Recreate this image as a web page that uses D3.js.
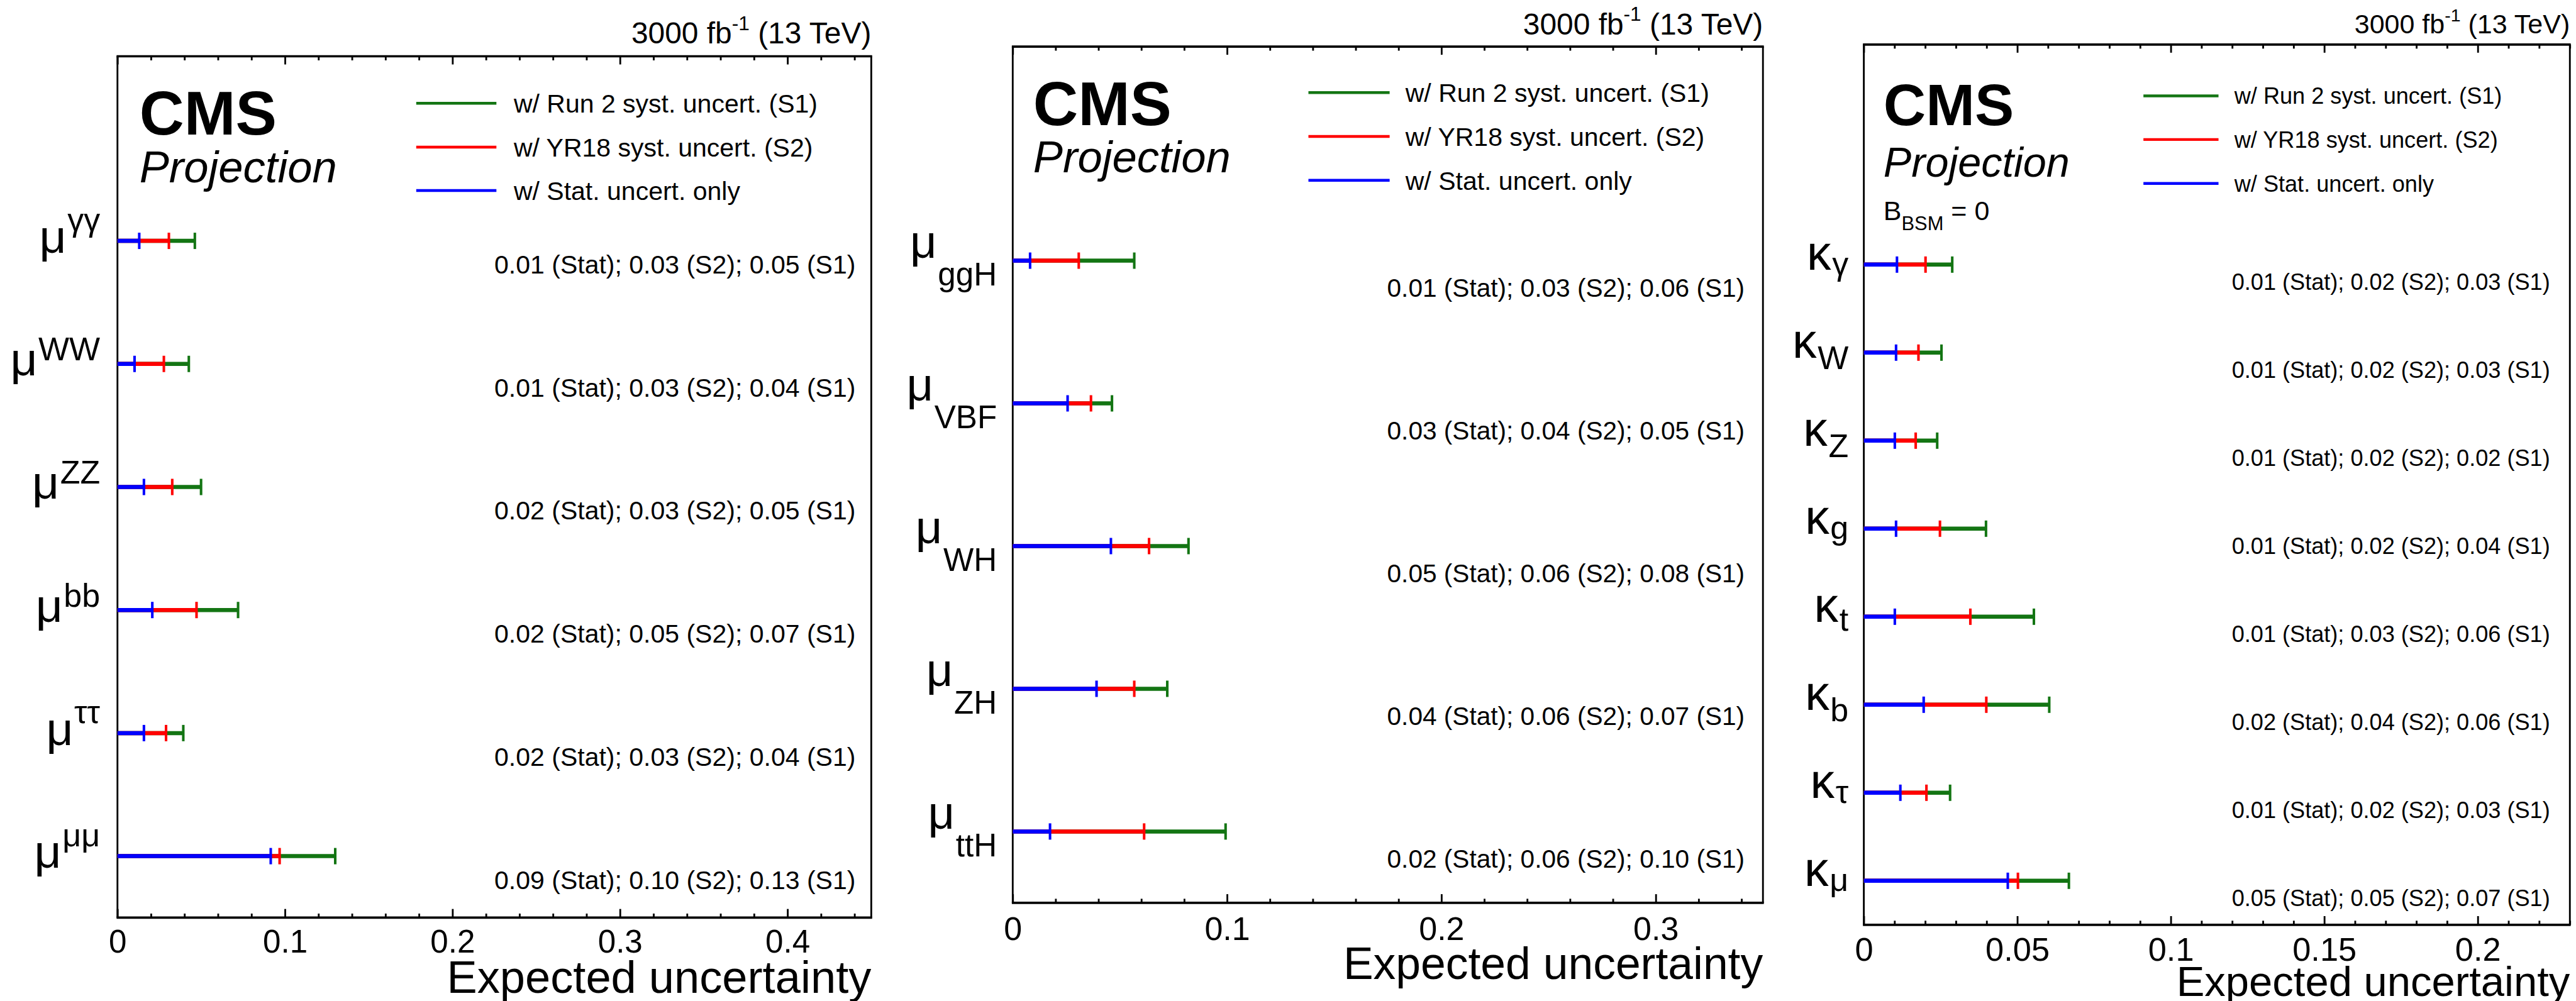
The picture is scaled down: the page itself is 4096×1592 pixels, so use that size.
<!DOCTYPE html>
<html>
<head>
<meta charset="utf-8">
<script src="https://cdn.jsdelivr.net/npm/d3@7"></script>
<style>
  html, body { margin: 0; padding: 0; background: #fff; overflow: hidden; }
  svg { display: block; }
  text { font-family: "Liberation Sans", Arial, Helvetica, sans-serif; fill: #000; }
</style>
</head>
<body>
<svg id="chart"></svg>
<script>
// ---- Data -------------------------------------------------------------
// Signal strengths per decay channel (superscript labels)
const decayLabels = ["γγ", "WW", "ZZ", "bb", "ττ", "μμ"];
const decayStat   = [0.0130, 0.0102, 0.0158, 0.0208, 0.0158, 0.0915];
const decayS2     = [0.0307, 0.0277, 0.0327, 0.0472, 0.0290, 0.0968];
const decayS1     = [0.0462, 0.0426, 0.0499, 0.0720, 0.0393, 0.1300];

// Signal strengths per production mode (subscript labels)
const prodLabels = ["ggH", "VBF", "WH", "ZH", "ttH"];
const prodStat   = [0.0081, 0.0256, 0.0458, 0.0391, 0.0174];
const prodS2     = [0.0308, 0.0365, 0.0636, 0.0567, 0.0613];
const prodS1     = [0.0567, 0.0463, 0.0820, 0.0721, 0.0993];

// Coupling modifiers (kappa framework, B_BSM = 0)
const kappaLabels = ["γ", "W", "Z", "g", "t", "b", "τ", "μ"];
const kappaStat   = [0.0108, 0.0105, 0.0101, 0.0105, 0.0101, 0.0195, 0.0119, 0.0469];
const kappaS2     = [0.0201, 0.0178, 0.0169, 0.0248, 0.0347, 0.0399, 0.0204, 0.0502];
const kappaS1     = [0.0288, 0.0253, 0.0239, 0.0398, 0.0554, 0.0604, 0.0281, 0.0668];

// Axis tick labels
const decayTicks = [0, 0.1, 0.2, 0.3, 0.4];
const prodTicks  = [0, 0.1, 0.2, 0.3];
const kappaTicks = [0, 0.05, 0.1, 0.15, 0.2];

const legendLabels = ["w/ Run 2 syst. uncert. (S1)", "w/ YR18 syst. uncert. (S2)", "w/ Stat. uncert. only"];
const axisTitle = "Expected uncertainty";

// ---- Canvas ----------------------------------------------------------
const W = 5044, H = 1960;
const svg = d3.select("#chart")
  .attr("width", 4096).attr("height", 1592)
  .attr("viewBox", `0 0 ${W} ${H}`);
svg.append("rect").attr("width", W).attr("height", H).attr("fill", "#fff");

const colS1 = "#137513", colS2 = "#ff0000", colStat = "#0000ff";
const fmt2 = d3.format(".2f");
const tickFmt = d => String(+d.toFixed(3));

// height of a label's topmost glyph, as a fraction of the font size
function topFrac(s) {
  if (/[A-Zbdfhkl]/.test(s)) return 0.716;
  if (/t/.test(s)) return 0.64;
  return 0.519;
}

const panels = [
  {
    labels: decayLabels, stat: decayStat, s2: decayS2, s1: decayS1, ticks: decayTicks,
    base: "μ", script: "sup",
    left: 230, right: 1706, top: 110, bottom: 1797, xmax: 0.45, minorStep: 0.02, emptyTop: 1,
    fs: { cms: 121, proj: 87, leg: 50.5, annot: 50.5, tick: 63, title: 89, lumi: 59 },
    cms: { x: 273, y: 263, py: 357 },
    leg: { x1: 815, x2: 972, tx: 1006, ys: [202, 288, 373] },
    annot: { x: 968, dy: 64 },
    lab: { baseSize: 92, scriptSize: 64, baseDy: 23, scriptOff: -28, gap: 34 },
    tickDy: 69, titleY: 1944, lumiY: 85
  },
  {
    labels: prodLabels, stat: prodStat, s2: prodS2, s1: prodS1, ticks: prodTicks,
    base: "μ", script: "sub",
    left: 1983, right: 3452, top: 91, bottom: 1768, xmax: 0.35, minorStep: 0.02, emptyTop: 1,
    fs: { cms: 122, proj: 87, leg: 50.5, annot: 50, tick: 64, title: 88, lumi: 59 },
    cms: { x: 2023, y: 245, py: 337 },
    leg: { x1: 2562, x2: 2721, tx: 2752, ys: [181, 267, 353] },
    annot: { x: 2716, dy: 71 },
    lab: { baseSize: 91, scriptSize: 63, baseDy: -5, scriptOff: 56, gap: 31 },
    tickDy: 73, titleY: 1917, lumiY: 67
  },
  {
    labels: kappaLabels, stat: kappaStat, s2: kappaS2, s1: kappaS1, ticks: kappaTicks,
    base: "κ", script: "sub",
    left: 3649.5, right: 5032, top: 87, bottom: 1811, xmax: 0.23, minorStep: 0.01, emptyTop: 2,
    fs: { cms: 115, proj: 82, leg: 44.5, annot: 44.5, tick: 64.5, title: 82.5, lumi: 53 },
    cms: { x: 3688, y: 245, py: 346 },
    leg: { x1: 4197, x2: 4344, tx: 4375, ys: [187.5, 273, 359] },
    annot: { x: 4370, dy: 50 },
    lab: { baseSize: 95, scriptSize: 64, baseDy: 10, scriptOff: 26, gap: 30 },
    tickDy: 70, titleY: 1950, lumiY: 65,
    extra: { text: "B", sub: "BSM", rest: " = 0", y: 431, size: 53, subSize: 38, subDy: 20 }
  }
];

function drawPanel(p) {
  const g = svg.append("g");
  const x = d3.scaleLinear().domain([0, p.xmax]).range([p.left, p.right]);
  const nSlots = p.labels.length + p.emptyTop;
  const y = d3.scaleLinear().domain([0, nSlots]).range([p.top, p.bottom]);
  const rowY = i => y(p.emptyTop + i + 0.5);

  // ticks (major + minor) on bottom and top
  const minor = d3.range(0, p.xmax + 1e-9, p.minorStep)
    .filter(v => !p.ticks.some(t => Math.abs(t - v) < 1e-9));

  const styleAxis = a => {
    a.select(".domain").remove();
    a.attr("font-family", null).attr("font-size", null);
    a.selectAll("line").attr("stroke", "#000").attr("stroke-width", 3.5);
  };

  g.append("g").attr("transform", `translate(0,${p.bottom})`)
    .call(d3.axisBottom(x).tickValues(p.ticks).tickSize(-17).tickFormat(tickFmt))
    .call(styleAxis)
    .call(a => a.selectAll("text").attr("y", p.tickDy).attr("dy", null)
      .attr("font-size", p.fs.tick).attr("fill", "#000"));
  g.append("g").attr("transform", `translate(0,${p.bottom})`)
    .call(d3.axisBottom(x).tickValues(minor).tickSize(-8).tickFormat(""))
    .call(styleAxis);
  g.append("g").attr("transform", `translate(0,${p.top})`)
    .call(d3.axisTop(x).tickValues(p.ticks).tickSize(-16).tickFormat(""))
    .call(styleAxis);
  g.append("g").attr("transform", `translate(0,${p.top})`)
    .call(d3.axisTop(x).tickValues(minor).tickSize(-8).tickFormat(""))
    .call(styleAxis);

  // frame
  g.append("line").attr("x1", p.left).attr("x2", p.left).attr("y1", p.top).attr("y2", p.bottom)
    .attr("stroke", "#000").attr("stroke-width", 3.5);
  g.append("line").attr("x1", p.right).attr("x2", p.right).attr("y1", p.top).attr("y2", p.bottom)
    .attr("stroke", "#000").attr("stroke-width", 3.5);
  g.append("line").attr("x1", p.left - 1.75).attr("x2", p.right + 1.75).attr("y1", p.top).attr("y2", p.top)
    .attr("stroke", "#000").attr("stroke-width", 4.5);
  g.append("line").attr("x1", p.left - 1.75).attr("x2", p.right + 1.75).attr("y1", p.bottom).attr("y2", p.bottom)
    .attr("stroke", "#000").attr("stroke-width", 4.5);

  // uncertainty bars: S1 underneath, then S2, then stat-only on top
  const series = [[p.s1, colS1], [p.s2, colS2], [p.stat, colStat]];
  series.forEach(([vals, col]) => {
    const sg = g.append("g");
    sg.selectAll("line.bar").data(vals).join("line").attr("class", "bar")
      .attr("x1", x(0)).attr("x2", d => x(d))
      .attr("y1", (d, i) => rowY(i)).attr("y2", (d, i) => rowY(i))
      .attr("stroke", col).attr("stroke-width", 8);
    sg.selectAll("line.cap").data(vals).join("line").attr("class", "cap")
      .attr("x1", d => x(d)).attr("x2", d => x(d))
      .attr("y1", (d, i) => rowY(i) - 16).attr("y2", (d, i) => rowY(i) + 16)
      .attr("stroke", col).attr("stroke-width", 5);
  });

  // numeric summary per row
  g.selectAll("text.annot").data(p.labels).join("text").attr("class", "annot")
    .attr("x", p.annot.x).attr("y", (d, i) => rowY(i) + p.annot.dy)
    .attr("font-size", p.fs.annot)
    .text((d, i) => `${fmt2(p.stat[i])} (Stat); ${fmt2(p.s2[i])} (S2); ${fmt2(p.s1[i])} (S1)`);

  // row labels: Greek symbol with super/subscript
  p.labels.forEach((lab, i) => {
    const yb = rowY(i) + p.lab.baseDy;
    const baseTop = yb - 0.519 * p.lab.baseSize;
    const scriptTop = baseTop + p.lab.scriptOff;
    const scriptBase = scriptTop + topFrac(lab) * p.lab.scriptSize;
    const xr = p.left - p.lab.gap;
    const st = g.append("text").attr("x", xr).attr("y", scriptBase)
      .attr("text-anchor", "end").attr("font-size", p.lab.scriptSize).text(lab);
    const w = st.node().getComputedTextLength();
    g.append("text").attr("x", xr - w - 2).attr("y", yb)
      .attr("text-anchor", "end").attr("font-size", p.lab.baseSize).text(p.base);
  });

  // CMS Projection
  g.append("text").attr("x", p.cms.x).attr("y", p.cms.y)
    .attr("font-size", p.fs.cms).attr("font-weight", "bold").text("CMS");
  g.append("text").attr("x", p.cms.x).attr("y", p.cms.py)
    .attr("font-size", p.fs.proj).attr("font-style", "italic").text("Projection");

  if (p.extra) {
    const e = p.extra;
    const t = g.append("text").attr("x", p.cms.x).attr("y", e.y).attr("font-size", e.size);
    t.append("tspan").text(e.text);
    t.append("tspan").attr("font-size", e.subSize).attr("dy", e.subDy).text(e.sub);
    t.append("tspan").attr("dy", -e.subDy).text(e.rest);
  }

  // legend
  const legCols = [colS1, colS2, colStat];
  legendLabels.forEach((lab, k) => {
    const ly = p.leg.ys[k];
    g.append("line").attr("x1", p.leg.x1).attr("x2", p.leg.x2).attr("y1", ly).attr("y2", ly)
      .attr("stroke", legCols[k]).attr("stroke-width", 5.5);
    g.append("text").attr("x", p.leg.tx).attr("y", ly + p.fs.leg * 0.36)
      .attr("font-size", p.fs.leg).text(lab);
  });

  // luminosity / energy label
  const lt = g.append("text").attr("x", p.right).attr("y", p.lumiY)
    .attr("text-anchor", "end").attr("font-size", p.fs.lumi);
  lt.append("tspan").text("3000 fb");
  lt.append("tspan").attr("font-size", p.fs.lumi * 0.66).attr("dy", -p.fs.lumi * 0.45).text("-1");
  lt.append("tspan").attr("dy", p.fs.lumi * 0.45).text(" (13 TeV)");

  // axis title
  g.append("text").attr("x", p.right).attr("y", p.titleY)
    .attr("text-anchor", "end").attr("font-size", p.fs.title).text(axisTitle);
}

panels.forEach(drawPanel);
</script>
</body>
</html>
